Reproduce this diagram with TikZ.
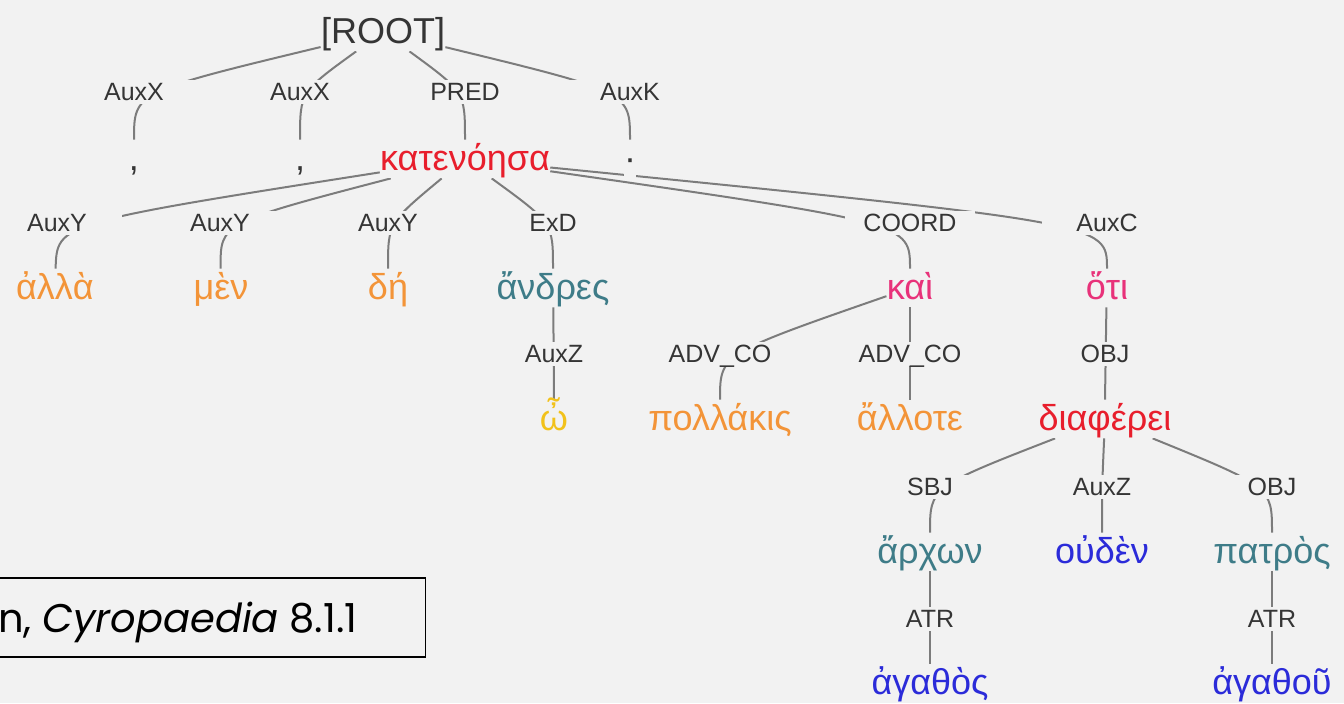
\documentclass[tikz,border=0pt]{standalone}
\usepackage{fontspec}
\setmainfont{Liberation Sans}
\newfontfamily\citefont{Poppins}
\usepackage{xcolor}
\usetikzlibrary{backgrounds}

\definecolor{bgcol}{HTML}{F2F2F2}
\definecolor{edgecol}{HTML}{7C7C7C}
\definecolor{labcol}{HTML}{353535}
\definecolor{verbcol}{HTML}{E81E2C}
\definecolor{conjcol}{HTML}{E8327A}
\definecolor{advcol}{HTML}{F39438}
\definecolor{nouncol}{HTML}{3E7C88}
\definecolor{interjcol}{HTML}{F2C21B}
\definecolor{adjcol}{HTML}{2B2BD9}

\begin{document}
\begin{tikzpicture}[x=0.5pt,y=-0.5pt,
	lab/.style={font=\fontsize{12.5}{14}\selectfont,text=labcol,fill=bgcol,inner sep=0pt,text height=10pt,text depth=2pt,minimum width=65pt,anchor=base},
	word/.style={font=\fontsize{18}{20}\selectfont,fill=bgcol,inner sep=0pt,text height=15pt,text depth=4pt,anchor=base},
	edge/.style={draw=edgecol,line width=1pt},
	citebox/.style={draw=black,line width=0.75pt,font=\citefont\fontsize{20}{24}\selectfont,inner xsep=34pt,inner ysep=7.5pt,text height=19.5pt,text depth=5pt,anchor=base east}]

			\useasboundingbox (0,0) rectangle (1344,703);

			% root and first level
			\node[word,text=labcol] (root) at (383,43) {[ROOT]};
			\node[lab] (auxx1) at (134,100) {AuxX};
			\node[lab] (auxx2) at (300,100) {AuxX};
			\node[lab] (pred) at (465,100) {PRED};
			\node[lab] (auxk) at (630,100) {AuxK};
			\node[word,text=labcol] (comma1) at (134,170) {,};
			\node[word,text=labcol] (comma2) at (300,170) {,};
			\node[word,text=verbcol] (katenoesa) at (465,170) {κατενόησα};
			\node[word,text=labcol] (stop) at (630,170) {·};

			% second level
			\node[lab] (auxy1) at (57,231) {AuxY};
			\node[lab] (auxy2) at (220,231) {AuxY};
			\node[lab] (auxy3) at (388,231) {AuxY};
			\node[lab] (exd) at (553,231) {ExD};
			\node[lab] (coord) at (910,231) {COORD};
			\node[lab] (auxc) at (1107,231) {AuxC};
			\node[word,text=advcol] (alla) at (55,299) {ἀλλὰ};
			\node[word,text=advcol] (men) at (221,299) {μὲν};
			\node[word,text=advcol] (de) at (388,299) {δή};
			\node[word,text=nouncol] (andres) at (553,299) {ἄνδρες};
			\node[word,text=conjcol] (kai) at (910,299) {καὶ};
			\node[word,text=conjcol] (hoti) at (1107,299) {ὅτι};

			% third level
			\node[lab] (auxz1) at (554,362) {AuxZ};
			\node[lab] (advco1) at (720,362) {ADV\_CO};
			\node[lab] (advco2) at (910,362) {ADV\_CO};
			\node[lab] (obj1) at (1105,362) {OBJ};
			\node[word,text=interjcol] (o) at (554,430) {ὦ};
			\node[word,text=advcol] (pollakis) at (720,430) {πολλάκις};
			\node[word,text=advcol] (allote) at (910,430) {ἄλλοτε};
			\node[word,text=verbcol] (diapherei) at (1105,430) {διαφέρει};

			% fourth and fifth level
			\node[lab] (sbj) at (930,495) {SBJ};
			\node[lab] (auxz2) at (1102,495) {AuxZ};
			\node[lab] (obj2) at (1272,495) {OBJ};
			\node[word,text=nouncol] (archon) at (930,563) {ἄρχων};
			\node[word,text=adjcol] (ouden) at (1102,563) {οὐδὲν};
			\node[word,text=nouncol] (patros) at (1272,563) {πατρὸς};
			\node[lab] (atr1) at (930,627) {ATR};
			\node[lab] (atr2) at (1272,627) {ATR};
			\node[word,text=adjcol] (agathos) at (930,694) {ἀγαθὸς};
			\node[word,text=adjcol] (agathou) at (1272,694) {ἀγαθοῦ};

			\node[citebox] (cite) at (426,632) {n, \textit{Cyropaedia} 8.1.1};

			\begin{scope}[on background layer]
			\fill[bgcol] (0,0) rectangle (1344,703);
			\draw[edge] (root) .. controls (auxx1.center) .. (comma1);
			\draw[edge] (root) .. controls (auxx2.center) .. (comma2);
			\draw[edge] (root) .. controls (pred.center) .. (katenoesa);
			\draw[edge] (root) .. controls (auxk.center) .. (stop);
			\draw[edge] (katenoesa) .. controls (auxy1.center) .. (alla);
			\draw[edge] (katenoesa) .. controls (auxy2.center) .. (men);
			\draw[edge] (katenoesa) .. controls (auxy3.center) .. (de);
			\draw[edge] (katenoesa) .. controls (exd.center) .. (andres);
			\draw[edge] (katenoesa) .. controls (coord.center) .. (kai);
			\draw[edge] (katenoesa) .. controls (auxc.center) .. (hoti);
			\draw[edge] (andres) .. controls (auxz1.center) .. (o);
			\draw[edge] (kai) .. controls (advco1.center) .. (pollakis);
			\draw[edge] (kai) .. controls (advco2.center) .. (allote);
			\draw[edge] (hoti) .. controls (obj1.center) .. (diapherei);
			\draw[edge] (diapherei) .. controls (sbj.center) .. (archon);
			\draw[edge] (diapherei) .. controls (auxz2.center) .. (ouden);
			\draw[edge] (diapherei) .. controls (obj2.center) .. (patros);
			\draw[edge] (archon) .. controls (atr1.center) .. (agathos);
			\draw[edge] (patros) .. controls (atr2.center) .. (agathou);
			\end{scope}
		\end{tikzpicture}
\end{document}
